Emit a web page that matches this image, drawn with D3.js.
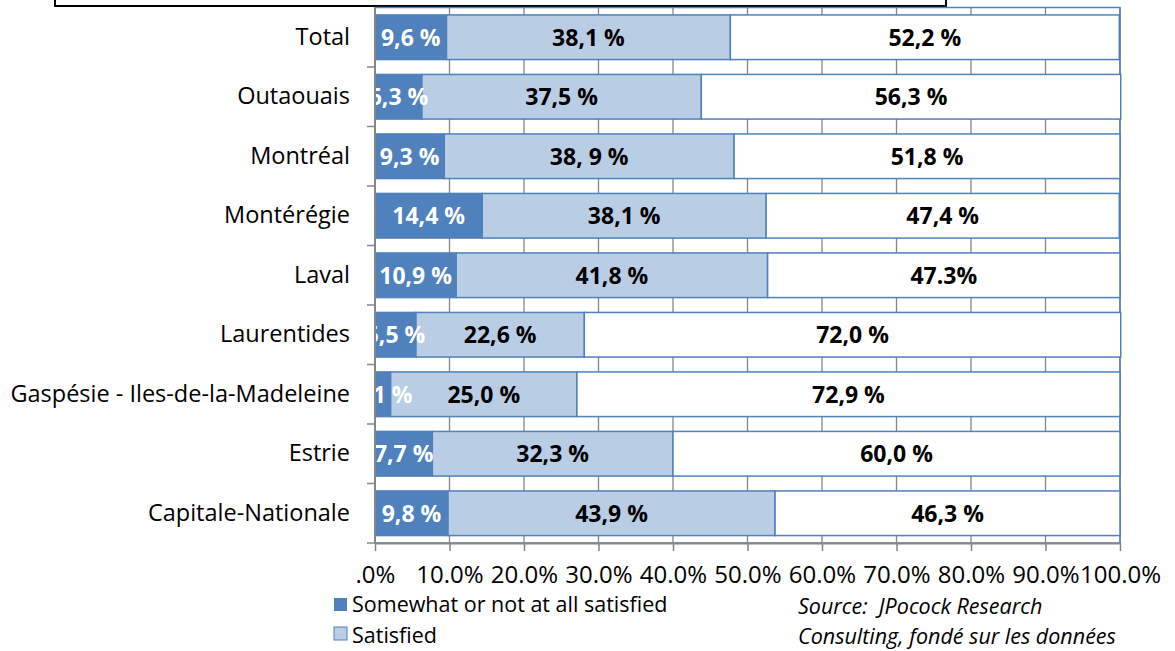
<!DOCTYPE html>
<html lang="fr">
<head>
    <meta charset="utf-8">
    <title>Satisfaction par région</title>
    <script type="text/javascript" src="https://d3js.org/d3.v7.min.js"></script>
    <style type="text/css">
        body { margin: 0; background: #fff; }
        text { font-family: "Open Sans", sans-serif; white-space: pre; }
    </style>
</head>
<body>
    <script type="text/javascript">

        // data
        const regions = ["Total", "Outaouais", "Montréal", "Montérégie", "Laval",
                         "Laurentides", "Gaspésie - Iles-de-la-Madeleine", "Estrie", "Capitale-Nationale"];
        const notSatisfied = [9.6, 6.3, 9.3, 14.4, 10.9, 5.5, 2.1, 7.7, 9.8];
        const satisfied    = [38.1, 37.5, 38.9, 38.1, 41.8, 22.6, 25.0, 32.3, 43.9];
        const verySatisfied = [52.2, 56.3, 51.8, 47.4, 47.3, 72.0, 72.9, 60.0, 46.3];
        const notSatisfiedLabels = ["9,6 %", "6,3 %", "9,3 %", "14,4 %", "10,9 %", "5,5 %", "2,1 %", "7,7 %", "9,8 %"];
        const satisfiedLabels = ["38,1 %", "37,5 %", "38, 9 %", "38,1 %", "41,8 %", "22,6 %", "25,0 %", "32,3 %", "43,9 %"];
        const verySatisfiedLabels = ["52,2 %", "56,3 %", "51,8 %", "47,4 %", "47.3%", "72,0 %", "72,9 %", "60,0 %", "46,3 %"];
        const xTicks = [0, 10, 20, 30, 40, 50, 60, 70, 80, 90, 100];
        const xTickLabels = [".0%", "10.0%", "20.0%", "30.0%", "40.0%", "50.0%", "60.0%", "70.0%", "80.0%", "90.0%", "100.0%"];
        const legendLabels = ["Somewhat or not at all satisfied", "Satisfied"];
        const sourceLines = ["Source:  JPocock Research", "Consulting, fondé sur les données"];

        const width = 1175;
        const height = 651;
        const plot = { left: 375, right: 1120, top: 7.5, bottom: 543 };

        const dark = "#4f81bd", light = "#b9cde5", gray = "#868686";

        const svg = d3.select("body")
                    .append("svg")
                    .attr("width", width)
                    .attr("height", height);

        // Scales
        const xScale = d3.scaleLinear()
                        .domain([0, 100])
                        .range([plot.left, plot.right]);

        const yScale = d3.scaleBand()
                        .domain(regions)
                        .range([plot.top, plot.bottom])
                        .paddingInner(0.25)
                        .paddingOuter(0.125);

        // title box (cut off at the top of the picture)
        svg.append("rect")
            .attr("x", 55).attr("y", -30)
            .attr("width", 891).attr("height", 36)
            .attr("fill", "#fff")
            .attr("stroke", "#000")
            .attr("stroke-width", 2);

        // gridlines
        svg.append("g")
            .selectAll("line")
            .data(xTicks.slice(1))
            .enter()
            .append("line")
            .attr("x1", d => xScale(d)).attr("x2", d => xScale(d))
            .attr("y1", plot.top).attr("y2", plot.bottom)
            .attr("stroke", gray)
            .attr("stroke-width", 1.3);

        // plot area border
        svg.append("rect")
            .attr("x", plot.left).attr("y", plot.top)
            .attr("width", plot.right - plot.left)
            .attr("height", plot.bottom - plot.top)
            .attr("fill", "none")
            .attr("stroke", dark)
            .attr("stroke-width", 1.5);

        // stacked rows
        const rows = regions.map((r, i) => {
            const a = notSatisfied[i], b = satisfied[i], c = verySatisfied[i];
            return [
                { region: r, x0: 0, x1: a, fill: dark, label: notSatisfiedLabels[i], color: "#fff" },
                { region: r, x0: a, x1: a + b, fill: light, label: satisfiedLabels[i], color: "#000" },
                { region: r, x0: a + b, x1: a + b + c, fill: "#fff", label: verySatisfiedLabels[i], color: "#000" }
            ];
        });
        const segments = rows.flat();

        svg.selectAll("rect.seg")
            .data(segments)
            .enter()
            .append("rect")
            .attr("class", "seg")
            .attr("x", d => xScale(d.x0))
            .attr("y", d => yScale(d.region))
            .attr("width", d => xScale(d.x1) - xScale(d.x0))
            .attr("height", yScale.bandwidth())
            .attr("fill", d => d.fill)
            .attr("stroke", dark)
            .attr("stroke-width", 1.5);

        svg.append("clipPath")
            .attr("id", "plotclip")
            .append("rect")
            .attr("x", plot.left).attr("y", 0)
            .attr("width", plot.right - plot.left)
            .attr("height", height);

        svg.append("g")
            .attr("clip-path", "url(#plotclip)")
            .selectAll("text")
            .data(segments)
            .enter()
            .append("text")
            .attr("x", d => (xScale(d.x0) + xScale(d.x1)) / 2)
            .attr("y", d => yScale(d.region) + yScale.bandwidth() / 2)
            .attr("dy", "0.36em")
            .attr("text-anchor", "middle")
            .attr("font-size", 23)
            .attr("font-weight", "bold")
            .attr("fill", d => d.color)
            .text(d => d.label);

        // Axes
        const yAxis = d3.axisLeft(yScale).tickSize(0).tickPadding(25);
        const yg = svg.append("g")
            .attr("transform", `translate(${plot.left},0)`)
            .call(yAxis);
        yg.select(".domain").remove();
        yg.selectAll("text").attr("font-size", 23.5).attr("fill", "#000").attr("font-family", "Open Sans, sans-serif");

        // category boundaries for left ticks
        const bounds = d3.range(regions.length + 1).map(k => plot.top + k * yScale.step());
        svg.append("g")
            .selectAll("line")
            .data(bounds.slice(1))
            .enter()
            .append("line")
            .attr("x1", plot.left - 8).attr("x2", plot.left)
            .attr("y1", d => d).attr("y2", d => d)
            .attr("stroke", gray)
            .attr("stroke-width", 1.5);

        svg.append("line")
            .attr("x1", plot.left).attr("x2", plot.left)
            .attr("y1", plot.top).attr("y2", plot.bottom)
            .attr("stroke", gray)
            .attr("stroke-width", 2);

        const xAxis = d3.axisBottom(xScale)
            .tickValues(xTicks)
            .tickFormat((d, i) => xTickLabels[i])
            .tickSize(8)
            .tickSizeOuter(0)
            .tickPadding(15);
        const xg = svg.append("g")
            .attr("transform", `translate(0,${plot.bottom})`)
            .call(xAxis);
        xg.select(".domain").attr("stroke", gray).attr("stroke-width", 2);
        xg.selectAll(".tick line").attr("stroke", gray).attr("stroke-width", 1.5);
        xg.selectAll("text").attr("font-size", 24).attr("fill", "#000").attr("font-family", "Open Sans, sans-serif");

        // Legend
        const legend = svg.append("g");
        const legendFills = [dark, light];
        const swatchY = [598, 627];
        const legendBase = [612, 643];
        legendLabels.forEach((t, i) => {
            legend.append("rect")
                .attr("x", 334).attr("y", swatchY[i])
                .attr("width", 13).attr("height", 13)
                .attr("fill", legendFills[i])
                .attr("stroke", i === 1 ? dark : "none")
                .attr("stroke-width", 1);
            legend.append("text")
                .attr("x", 352).attr("y", legendBase[i])
                .attr("font-size", 21.5)
                .text(t);
        });

        // Source note
        svg.append("g")
            .selectAll("text")
            .data(sourceLines)
            .enter()
            .append("text")
            .attr("x", 798)
            .attr("y", (d, i) => 614 + i * 30)
            .attr("font-size", 21.5)
            .attr("font-style", "italic")
            .text(d => d);
    </script>
</body>
</html>
